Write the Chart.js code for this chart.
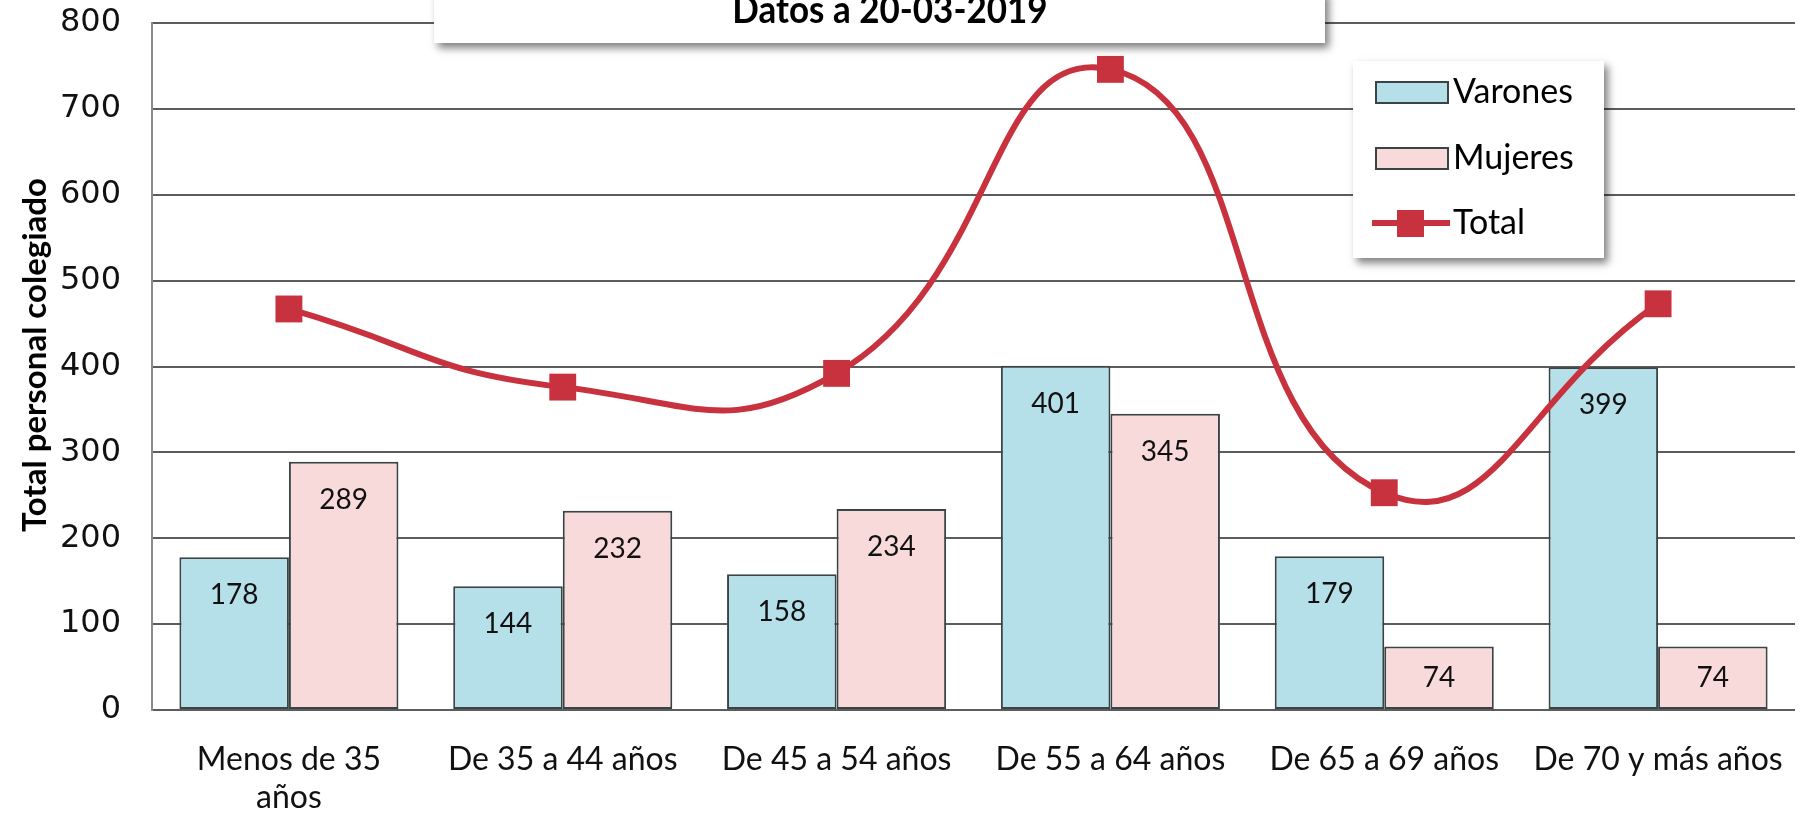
<!DOCTYPE html>
<html>
<head>
<meta charset="utf-8">
<script src="https://cdn.jsdelivr.net/npm/chart.js@4.4.1/dist/chart.umd.min.js"></script>
<style>
  html, body { margin: 0; padding: 0; background: #fff; }
  canvas { display: block; }
</style>
</head>
<body>
<canvas id="chart" width="1814" height="819"></canvas>
<script>
// --- data ---
const categories = [['Menos de 35', 'años'], 'De 35 a 44 años', 'De 45 a 54 años', 'De 55 a 64 años', 'De 65 a 69 años', 'De 70 y más años'];
const varones = [178, 144, 158, 401, 179, 399];
const mujeres = [289, 232, 234, 345, 74, 74];
const total = [467, 376, 392, 746, 253, 473];
const yTicks = [0, 100, 200, 300, 400, 500, 600, 700, 800];
const titleText = 'Datos a 20-03-2019';
const yTitle = 'Total personal colegiado';

const colors = {
    varones: '#b5dfe9',
    mujeres: '#f8dada',
    barBorder: '#3a4446',
    total: '#c8323e',
    grid: '#5c5c5c'
};
const LABEL_FONT = 'Lato, "Open Sans", sans-serif';

// value labels inside bars
const barLabels = {
    id: 'barLabels',
    afterDatasetsDraw(chart) {
        const ctx = chart.ctx;
        ctx.save();
        ctx.font = '28px ' + LABEL_FONT;
        ctx.fillStyle = '#111';
        ctx.textAlign = 'center';
        ctx.textBaseline = 'middle';
        [0, 1].forEach(di => {
            const meta = chart.getDatasetMeta(di);
            meta.data.forEach((bar, i) => {
                const h = bar.base - bar.y;
                const off = Math.min(38, h / 2);
                ctx.fillText(String(chart.data.datasets[di].data[i]), bar.x, bar.y + off);
            });
        });
        ctx.restore();
    }
};

// y title, title box and legend box, drawn on top
const boxes = {
    id: 'boxes',
    afterDraw(chart) {
        const ctx = chart.ctx;
        const shadowBox = (x, y, w, h) => {
            ctx.save();
            ctx.shadowColor = 'rgba(0,0,0,0.5)';
            ctx.shadowBlur = 8;
            ctx.shadowOffsetX = 4;
            ctx.shadowOffsetY = 5;
            ctx.fillStyle = '#fff';
            ctx.fillRect(x, y, w, h);
            ctx.restore();
        };

        // axis title
        ctx.save();
        ctx.translate(35, 355);
        ctx.rotate(-Math.PI / 2);
        ctx.font = 'bold 33px ' + LABEL_FONT;
        ctx.fillStyle = '#000';
        ctx.textAlign = 'center';
        ctx.textBaseline = 'middle';
        ctx.fillText(yTitle, 0, 0);
        ctx.restore();

        // title
        shadowBox(434, -10, 891, 53);
        ctx.save();
        ctx.font = 'bold 35px ' + LABEL_FONT;
        ctx.fillStyle = '#000';
        ctx.textAlign = 'center';
        ctx.textBaseline = 'alphabetic';
        ctx.translate(890, 23);
        ctx.scale(1, 1.1);
        ctx.fillText(titleText, 0, 0);
        ctx.restore();

        // legend
        shadowBox(1353, 61, 251, 197);
        ctx.save();
        ctx.font = '34px ' + LABEL_FONT;
        ctx.textBaseline = 'middle';
        ctx.textAlign = 'left';
        const ds = chart.data.datasets;
        const rows = [92, 158, 223];
        [0, 1].forEach(i => {
            ctx.fillStyle = ds[i].backgroundColor;
            ctx.strokeStyle = colors.barBorder;
            ctx.lineWidth = 2;
            ctx.fillRect(1376, rows[i] - 10, 72, 21);
            ctx.strokeRect(1376, rows[i] - 10, 72, 21);
            ctx.fillStyle = '#000';
            ctx.fillText(ds[i].label, 1453, rows[i]);
        });
        ctx.strokeStyle = colors.total;
        ctx.lineWidth = 6;
        ctx.beginPath();
        ctx.moveTo(1372, rows[2]);
        ctx.lineTo(1450, rows[2]);
        ctx.stroke();
        ctx.fillStyle = colors.total;
        ctx.fillRect(1397, rows[2] - 13, 27, 27);
        ctx.fillStyle = '#000';
        ctx.fillText(ds[2].label, 1453, rows[2]);
        ctx.restore();
    }
};

new Chart(document.getElementById('chart'), {
    type: 'bar',
    data: {
        labels: categories,
        datasets: [
            {
                label: 'Varones',
                data: varones,
                backgroundColor: colors.varones,
                borderColor: colors.barBorder,
                borderWidth: 2,
                borderSkipped: false,
                categoryPercentage: 0.8,
                barPercentage: 1.0,
                order: 2
            },
            {
                label: 'Mujeres',
                data: mujeres,
                backgroundColor: colors.mujeres,
                borderColor: colors.barBorder,
                borderWidth: 2,
                borderSkipped: false,
                categoryPercentage: 0.8,
                barPercentage: 1.0,
                order: 2
            },
            {
                type: 'line',
                label: 'Total',
                data: total,
                borderColor: colors.total,
                backgroundColor: colors.total,
                borderWidth: 6,
                tension: 0.5,
                pointStyle: 'rect',
                pointRadius: 19,
                pointBackgroundColor: colors.total,
                pointBorderWidth: 0,
                clip: false,
                order: 0
            }
        ]
    },
    options: {
        responsive: false,
        animation: false,
        layout: { padding: { left: 10, top: 23, right: 15, bottom: 0 } },
        plugins: {
            legend: { display: false },
            tooltip: { enabled: false }
        },
        scales: {
            x: {
                offset: true,
                grid: { display: false },
                border: { display: false },
                ticks: {
                    color: '#111',
                    font: { family: LABEL_FONT, size: 32 },
                    padding: 22,
                    maxRotation: 0,
                    autoSkip: false
                },
                afterFit: s => { s.height = 109; }
            },
            y: {
                min: 0,
                max: 800,
                afterBuildTicks: s => { s.ticks = yTicks.map(v => ({ value: v })); },
                grid: { color: colors.grid, lineWidth: 2, drawTicks: false },
                border: { display: true, color: '#8a8a8a', width: 2 },
                ticks: {
                    color: '#111',
                    font: { family: '"DejaVu Sans", Verdana, sans-serif', size: 32 },
                    padding: 31
                },
                afterFit: s => {
                    s.width = 142;
                    s.paddingTop = 0;
                    s.paddingBottom = 0;
                }
            }
        }
    },
    plugins: [barLabels, boxes]
});
</script>
</body>
</html>
